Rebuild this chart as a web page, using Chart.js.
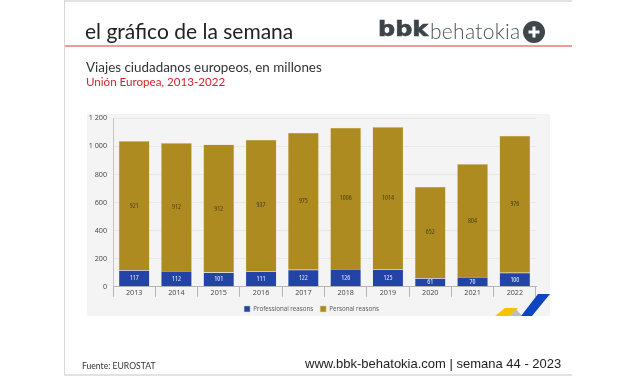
<!DOCTYPE html>
<html lang="es">
<head>
<meta charset="utf-8">
<script src="https://cdn.jsdelivr.net/npm/chart.js@4"></script>
<style>
html,body{margin:0;padding:0;background:#fff;overflow:hidden}
#page{position:relative;width:627px;height:376px;overflow:hidden;filter:blur(.4px)}
.t{position:absolute;white-space:nowrap;line-height:1}
#panel{position:absolute;left:87px;top:114px;width:463px;height:202px;background:#f4f4f4}
#wrap{position:absolute;left:87px;top:108px;width:463px;height:214px}
.rule{position:absolute;background:#e2e2e2}
</style>
</head>
<body>
<div id="page">
  <div class="rule" style="left:64px;top:0;width:508px;height:2px"></div>
  <div class="rule" style="left:64px;top:0;width:1px;height:375px;background:#d8d8d8"></div>
  <div class="rule" style="left:64px;top:374px;width:508px;height:2px"></div>
  <div class="rule" style="left:65px;top:45px;width:507px;height:2px;background:#ef9a9a"></div>

  <div class="t" style="left:85px;top:18px;font:21px Lato,sans-serif;color:#222">el gráfico de la semana</div>
  <div class="t" style="left:378px;top:17px;font:900 21px 'DejaVu Sans',sans-serif;color:#3c4448;transform-origin:left center;transform:scaleX(1.14);-webkit-text-stroke:.6px #3c4448">bbk</div>
  <div class="t" style="left:430px;top:18px;font:300 21px Lato,sans-serif;color:#4b5358;letter-spacing:.3px">behatokia</div>
  <svg style="position:absolute;left:522px;top:20px" width="24" height="24" viewBox="0 0 24 24"><circle cx="12" cy="12" r="11" fill="#3f474c"/><path d="M12 6.500v11M6.500 12h11" stroke="#fff" stroke-width="3"/></svg>

  <div class="t" style="left:86px;top:59px;font:13.400px Lato,sans-serif;color:#333">Viajes ciudadanos europeos, en millones</div>
  <div class="t" style="left:86px;top:75px;font:11.600px Lato,sans-serif;color:#d8232f">Unión Europea, 2013-2022</div>

  <div id="panel"></div>
  <div id="wrap"><canvas id="c" width="463" height="214"></canvas></div>
  <svg style="position:absolute;left:490px;top:290px" width="65" height="30" viewBox="0 0 65 30">
    <polygon points="5,26 15,18 28,18 20,26" fill="#f5c400"/>
    <polygon points="20,26 26,19 32,26" fill="#bdbdbd"/>
    <polygon points="31,26 48,4 60,4 42,26" fill="#0f46c0"/>
  </svg>

  <div class="t" style="left:82px;top:361px;font:8.600px Lato,sans-serif;color:#333">Fuente: EUROSTAT</div>
  <div class="t" style="left:305px;top:356px;font:13px 'Liberation Sans',sans-serif;color:#222">www.bbk-behatokia.com | semana 44 - 2023</div>
</div>
<script>
const categories = ['2013','2014','2015','2016','2017','2018','2019','2020','2021','2022'];
const professional = [117,112,101,111,122,126,125,61,70,100];
const personal = [921,912,912,937,975,1006,1014,652,804,976];
const seriesNames = ['Professional reasons','Personal reasons'];
const yTickLabels = {0:'0',200:'200',400:'400',600:'600',800:'800',1000:'1 000',1200:'1 200'};

const narrow = "'Open Sans','Roboto',sans-serif";
const squeeze = 'condensed';

const barLabels = {
  id:'barLabels',
  afterDatasetsDraw(chart){
    const ctx = chart.ctx;
    ctx.save();
    ctx.font = squeeze + ' 7px ' + narrow;
    ctx.textAlign = 'center';
    ctx.textBaseline = 'middle';
    chart.data.datasets.forEach((ds,i)=>{
      ctx.fillStyle = i===0 ? '#e8ecf8' : '#4a3f16';
      chart.getDatasetMeta(i).data.forEach((bar,j)=>{
        const p = bar.getCenterPoint();
        ctx.fillText(String(ds.data[j]), p.x, p.y);
      });
    });
    ctx.restore();
  }
};

new Chart(document.getElementById('c'),{
  type:'bar',
  data:{
    labels:categories,
    datasets:[
      {label:seriesNames[0],data:professional,backgroundColor:'#2343a6',borderColor:'#cfd4e6',borderWidth:.5},
      {label:seriesNames[1],data:personal,backgroundColor:'#ad8b21',borderColor:'#e0d5a6',borderWidth:.5}
    ]
  },
  options:{
    responsive:false,
    animation:false,
    layout:{padding:{top:0,right:14,left:0,bottom:0}},
    datasets:{bar:{barPercentage:.73,categoryPercentage:1}},
    plugins:{
      legend:{
        position:'bottom',
        labels:{boxWidth:6,boxHeight:6,padding:7,color:'#555',font:{style:squeeze,size:6.2,family:narrow}}
      },
      tooltip:{enabled:false}
    },
    scales:{
      x:{
        stacked:true,
        offset:true,
        grid:{drawOnChartArea:false,drawTicks:true,tickLength:10,tickColor:'#b5b5b5',offset:true},
        border:{color:'#b5b5b5'},
        ticks:{color:'#444',padding:-8,maxRotation:0,font:{style:squeeze,size:7.2,family:narrow}},
        afterFit(s){s.height=12;}
      },
      y:{
        stacked:true,
        min:0,max:1200,
        grid:{color:'#e8e8e8',drawTicks:false,lineWidth:1},
        border:{color:'#c4c4c4'},
        ticks:{stepSize:200,color:'#444',padding:6,font:{style:squeeze,size:7.2,family:narrow},
          callback(v){return yTickLabels[v];}},
        afterFit(s){s.width=26;}
      }
    }
  },
  plugins:[barLabels]
});
</script>
</body>
</html>
